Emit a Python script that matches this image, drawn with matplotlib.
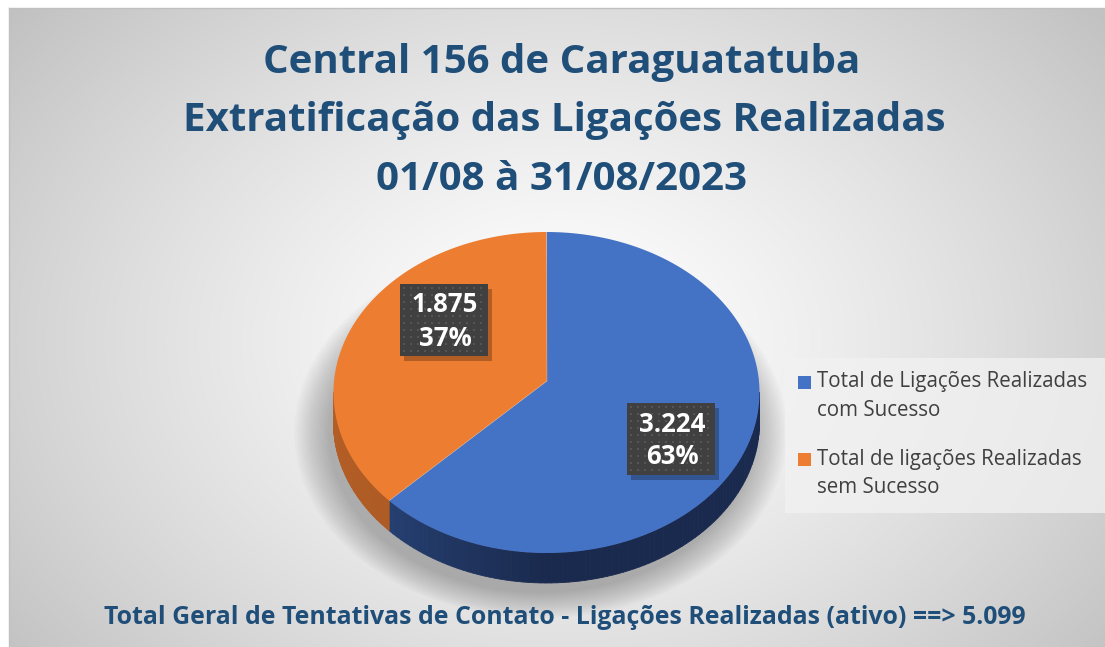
import numpy as np
import matplotlib
matplotlib.use("Agg")
import matplotlib.pyplot as plt
from matplotlib.patches import Polygon, Rectangle
import matplotlib.colors as mcolors

# ---- data ----
categories = [["Total de Ligações Realizadas", "com Sucesso"],
              ["Total de ligações Realizadas", "sem Sucesso"]]
values = [3224, 1875]
value_labels = ["3.224", "1.875"]
pct_labels = ["63%", "37%"]
title_lines = ["Central 156 de Caraguatatuba",
               "Extratificação das Ligações Realizadas",
               "01/08 à 31/08/2023"]
footer = "Total Geral de Tentativas de Contato - Ligações Realizadas (ativo) ==> 5.099"

top_colors = ["#4472c4", "#ed7d31"]
side_dark = [("#2b4a82", "#1a2a4e"), ("#b35e27", "#a8541f")]

W, H = 1105, 647
fig = plt.figure(figsize=(W / 100, H / 100), dpi=100)
ax = fig.add_axes([0, 0, 1, 1])
ax.set_xlim(0, W)
ax.set_ylim(H, 0)
ax.axis("off")

# ---- background radial gradient ----
yy, xx = np.mgrid[0:H, 0:W]
r = np.sqrt(((xx - 560) / 700.0) ** 2 + ((yy - 340) / 520.0) ** 2)
t = np.clip(r, 0, 1) ** 1.3
g = 1.0 - 0.24 * t
img = np.dstack([g, g, g])
img[:8, :, :] = 1.0
img[:, :9, :] = 1.0
ax.imshow(img, extent=(0, W, H, 0), zorder=0, interpolation="bilinear")
ax.plot([9, 1105], [8, 8], color="#c0c0c0", lw=1, zorder=1)
ax.plot([9, 9], [8, 647], color="#c0c0c0", lw=1, zorder=1)

# ---- 3D pie ----
cx, cy, a, b, depth = 546.5, 392.5, 213, 160.5, 30
apx, apy = 547, 381
total = float(sum(values))
fracs = [v / total for v in values]


def pt(theta_deg, dy=0.0):
    th = np.radians(theta_deg)
    return cx + a * np.sin(th), cy - b * np.cos(th) + dy


# soft shadow
for k in range(14):
    s = 1.0 + k * 0.012
    th = np.linspace(0, 360, 200)
    xs = cx - 6 + a * s * np.sin(np.radians(th))
    ys = cy + depth + 10 - b * s * np.cos(np.radians(th))
    ax.add_patch(Polygon(np.column_stack([xs, ys]), closed=True,
                         facecolor="black", edgecolor="none", alpha=0.018,
                         zorder=2))

angles = [0.0]
for f in fracs:
    angles.append(angles[-1] + f * 360)

# sides (visible between 90 and 270 deg clockwise from top)
for i in range(len(values)):
    s0, s1 = max(angles[i], 90), min(angles[i + 1], 270)
    if s1 <= s0:
        continue
    c0 = np.array(mcolors.to_rgb(side_dark[i][0]))
    c1 = np.array(mcolors.to_rgb(side_dark[i][1]))
    n = 90
    ths = np.linspace(s0, s1, n + 1)
    for j in range(n):
        p1 = pt(ths[j]); p2 = pt(ths[j + 1])
        q2 = pt(ths[j + 1], depth); q1 = pt(ths[j], depth)
        x_mid = (p1[0] + p2[0]) / 2
        u = np.clip((x_mid - (cx - a)) / (a * 1.0), 0, 1) ** 0.8
        col = c0 * (1 - u) + c1 * u
        ax.add_patch(Polygon([p1, p2, q2, q1], closed=True, facecolor=col,
                             edgecolor=col, lw=0.6, zorder=3))

# top faces
for i in range(len(values)):
    ths = np.linspace(angles[i], angles[i + 1], 200)
    pts = [(apx, apy)] + [pt(t_) for t_ in ths]
    ax.add_patch(Polygon(pts, closed=True, facecolor=top_colors[i],
                         edgecolor="none", zorder=4))
for ang in angles[:-1]:
    p = pt(ang)
    ax.plot([apx, p[0]], [apy, p[1]], color="#ffffff", lw=0.4, alpha=0.4, zorder=5)

# ---- data labels ----
label_pos = [(671, 439), (444, 320)]
for i in range(len(values)):
    x, y = label_pos[i]
    bw, bh = 88, 72
    ax.add_patch(Rectangle((x - bw / 2 + 4, y - bh / 2 + 5), bw, bh,
                           facecolor="black", alpha=0.25, edgecolor="none", zorder=6))
    ax.add_patch(Rectangle((x - bw / 2, y - bh / 2), bw, bh,
                           facecolor="#404040", edgecolor="none", zorder=7))
    gx, gy = np.meshgrid(np.arange(x - bw / 2 + 4, x + bw / 2, 7),
                         np.arange(y - bh / 2 + 4, y + bh / 2, 7))
    ax.scatter(gx.ravel(), gy.ravel(), s=2, color="#555555", marker="s",
               linewidths=0, zorder=8)
    ax.text(x + 1, y - 15, value_labels[i], ha="center", va="center", color="white",
            fontsize=18.5, fontweight="bold", family="Open Sans", zorder=9)
    ax.text(x + 1, y + 18, pct_labels[i], ha="center", va="center", color="white",
            fontsize=18.5, fontweight="bold", family="Open Sans", zorder=9)

# ---- title ----
title_color = "#1f4e79"
title_x = [562, 564, 562]
for k, line in enumerate(title_lines):
    ax.text(title_x[k], 62 + k * 59, line, ha="center", va="center", color=title_color,
            fontsize=29, fontweight="bold", family="Open Sans", zorder=9)

# ---- footer ----
ax.text(565, 617, footer, ha="center", va="center", color=title_color,
        fontsize=17.9, fontweight="bold", family="Open Sans", zorder=9)

# ---- legend ----
ax.add_patch(Rectangle((785, 358), 320, 155, facecolor="#f2f2f2", alpha=0.75,
                       edgecolor="none", zorder=6))
leg_y = [382, 459]
for i in range(len(values)):
    ax.add_patch(Rectangle((798, leg_y[i] - 6.5), 13, 13, facecolor=top_colors[i],
                           edgecolor="none", zorder=7))
    for k, line in enumerate(categories[i]):
        ax.text(817, leg_y[i] + k * 28.5, line, ha="left", va="center",
                color="#404040", fontsize=14.8, family="Open Sans", zorder=8)

fig.savefig("out.png", dpi=100)
